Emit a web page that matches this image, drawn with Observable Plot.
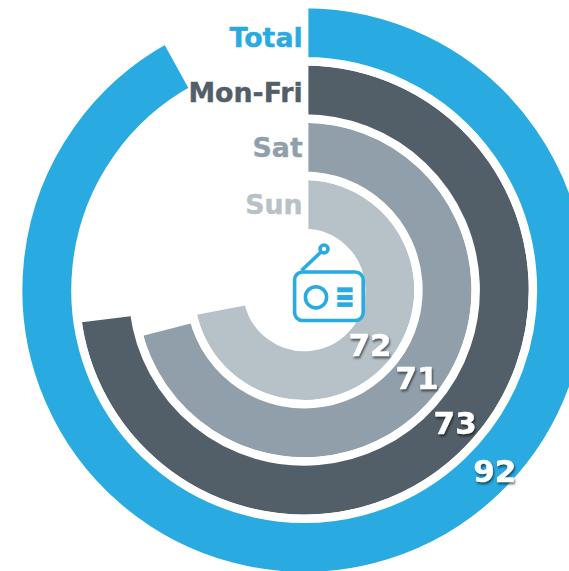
<!DOCTYPE html>
<html>
<head>
<meta charset="utf-8">
<script src="https://cdn.jsdelivr.net/npm/d3@7"></script>
<script src="https://cdn.jsdelivr.net/npm/@observablehq/plot@0.6"></script>
<style>
  html, body { margin: 0; padding: 0; background: #fff; overflow: hidden; }
</style>
</head>
<body>
<div id="chart"></div>
<script>
// Data (inner ring first)
const rings = ["Sun", "Sat", "Mon-Fri", "Total"];
const values = [72, 71, 73, 92];
const colors = ["#B6C1C8", "#919FAB", "#525F69", "#29ABE2"];
// Where along each ring the score sits, in the same 0-100 units
const scoreAt = [36.2, 35.6, 36.55, 37.15];

const rows = rings.map((ring, i) => ({ring, value: values[i], at: scoreAt[i]}));

// Layout
const W = 569, H = 571;
const cx = 304.2, cy = 290;
const gap = 8.4;
const font = "'DejaVu Sans', Verdana, sans-serif";
const blue = colors[3];
const titleNudge = {Sun: 0.6, Sat: 1, "Mon-Fri": 3, Total: 5.4};
const scoreNudge = {Sun: 0, Sat: 0, "Mon-Fri": 1, Total: 5.6};

const mid = (scales, ring) => scales.y(ring) + scales.y.bandwidth() / 2;

const rays = Plot.barX(rows, {
  x: "value", y: "ring", fill: "ring",
  render(index, scales, v) {
    const g = d3.create("svg:g").attr("transform", `translate(${cx},${cy})`);
    const bw = scales.y.bandwidth();
    for (const i of index) {
      const r0 = scales.y(rows[i].ring);
      g.append("path")
        .attr("d", d3.arc()({innerRadius: r0, outerRadius: r0 + bw, startAngle: v.x1[i], endAngle: v.x2[i]}))
        .attr("fill", v.fill[i])
        .attr("stroke", "#fff")
        .attr("stroke-width", gap);
    }
    return g.node();
  }
});

// Plot shifts text on a band scale by half a band, so that is taken back here
function polarText(opts, polar, shadow) {
  return Plot.text(rows, {
    ...opts,
    render(index, scales, v, dims, ctx, next) {
      const x = [], y = [];
      const half = scales.y.bandwidth() / 2;
      for (const i of index) {
        const [px, py] = polar(rows[i], scales);
        x[i] = px; y[i] = py - half;
      }
      const node = next(index, scales, {...v, x: Float64Array.from(x), y: Float64Array.from(y)}, dims, ctx);
      if (shadow) node.style.filter = shadow;
      return node;
    }
  });
}

const titles = polarText(
  {x: () => 0, y: "ring", text: "ring", fill: "ring", stroke: "ring", strokeWidth: 0.4, textAnchor: "end",
   fontFamily: font, fontWeight: "bold", fontSize: 26.8},
  (d, s) => [cx - 2, cy - mid(s, d.ring) + titleNudge[d.ring]]
);

const scores = polarText(
  {x: "at", y: "ring", text: "value", fill: "#fff", stroke: "#fff", strokeWidth: 0.5,
   fontFamily: font, fontWeight: "bold", fontSize: 31},
  (d, s) => {
    const a = s.x(d.at), r = mid(s, d.ring) + scoreNudge[d.ring];
    return [cx + r * Math.sin(a), cy - r * Math.cos(a)];
  },
  "drop-shadow(1.5px 2px 1.2px rgba(0,0,0,.55))"
);

// Radio pictogram in the hole
function radio() {
  const g = d3.create("svg:g")
    .attr("fill", "none").attr("stroke", blue).attr("stroke-width", 3.6);
  g.append("rect").attr("x", 294.6).attr("y", 272).attr("width", 68.6).attr("height", 48.5)
    .attr("rx", 8).attr("fill", "#fff");
  g.append("circle").attr("cx", 316).attr("cy", 297.3).attr("r", 10.6);
  g.append("line").attr("x1", 301.5).attr("y1", 270.5).attr("x2", 320.5).attr("y2", 252.5);
  g.append("circle").attr("cx", 324).attr("cy", 249).attr("r", 4);
  for (const [y, h] of [[287.3, 5], [295, 5], [302.3, 4.6]]) {
    g.append("rect").attr("x", 337.3).attr("y", y).attr("width", 15.4).attr("height", h)
      .attr("fill", blue).attr("stroke", "none");
  }
  return g.node();
}

const chart = Plot.plot({
  width: W, height: H,
  margin: 0,
  style: {background: "#fff", overflow: "hidden"},
  x: {domain: [0, 100], range: [0, 2 * Math.PI], axis: null},
  y: {type: "band", domain: rings, range: [57, 286], padding: 0, round: false, axis: null},
  color: {domain: rings, range: colors},
  marks: [rays, radio, titles, scores]
});
document.getElementById("chart").append(chart);
</script>
</body>
</html>
